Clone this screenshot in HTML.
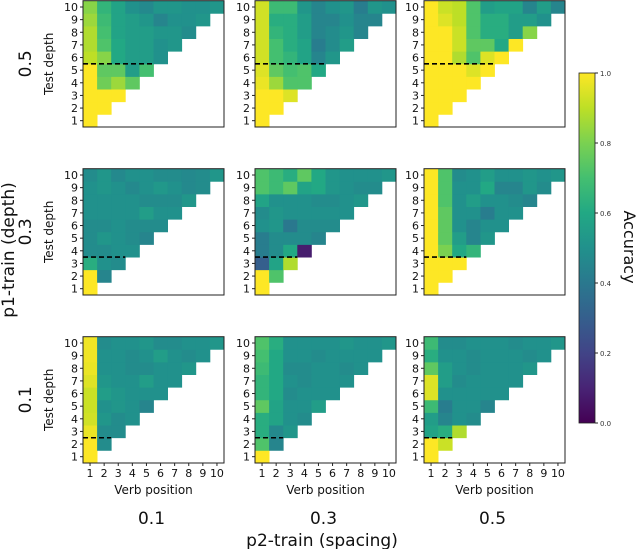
<!DOCTYPE html>
<html><head><meta charset="utf-8">
<style>
html,body{margin:0;padding:0;background:#fff;}
svg{display:block;font-family:"DejaVu Sans","Liberation Sans",sans-serif;}
</style></head>
<body>
<svg id="chart" width="640" height="549" viewBox="0 0 640 549" xmlns="http://www.w3.org/2000/svg">
<defs>
<linearGradient id="vir" x1="0" y1="1" x2="0" y2="0">
<stop offset="0" stop-color="#440154"/><stop offset="0.1" stop-color="#482475"/><stop offset="0.2" stop-color="#414487"/><stop offset="0.3" stop-color="#355f8d"/><stop offset="0.4" stop-color="#2a788e"/><stop offset="0.5" stop-color="#21918c"/><stop offset="0.6" stop-color="#22a884"/><stop offset="0.7" stop-color="#44bf70"/><stop offset="0.8" stop-color="#7ad151"/><stop offset="0.9" stop-color="#bddf26"/><stop offset="1" stop-color="#fde725"/>
</linearGradient>
</defs>
</svg>
<script>
// rows: p1-train (depth) values, top to bottom
const p1Labels = ["0.5","0.3","0.1"];
// columns: p2-train (spacing)
const p2Labels = ["0.1","0.3","0.5"];
const depthTicks = [1,2,3,4,5,6,7,8,9,10];
const verbTicks = [1,2,3,4,5,6,7,8,9,10];
const cbTicks = [0.0,0.2,0.4,0.6,0.8,1.0];
// training depth threshold per p1 row (dashed line)
const trainDepth = [5,3,2];
// panel data: each array row = depth d (1..10), d values for verb positions 1..d
const acc_05_01 = [[1],[1,1],[1,1,1],[1,0.78,0.85,0.75],[1,0.75,0.75,0.55,0.7],[0.9,0.82,0.6,0.55,0.55,0.5],[0.88,0.72,0.6,0.55,0.55,0.5,0.52],[0.88,0.7,0.58,0.55,0.55,0.52,0.52,0.48],[0.85,0.68,0.58,0.55,0.52,0.45,0.5,0.5,0.52],[0.82,0.65,0.58,0.5,0.47,0.52,0.52,0.5,0.5,0.52]];
const acc_05_03 = [[1],[1,1],[1,1,0.95],[0.97,0.85,0.72,0.72],[0.95,0.75,0.7,0.72,0.6],[0.93,0.7,0.65,0.58,0.45,0.52],[0.93,0.7,0.62,0.58,0.42,0.48,0.55],[0.93,0.65,0.62,0.55,0.45,0.48,0.52,0.45],[0.93,0.62,0.62,0.55,0.45,0.45,0.5,0.45,0.45],[0.93,0.68,0.68,0.52,0.45,0.5,0.52,0.42,0.52,0.5]];
const acc_05_05 = [[1],[1,1],[1,1,1],[1,1,1,1],[1,1,1,0.95,1],[1,1,0.88,0.72,0.95,1],[1,1,0.92,0.75,0.75,0.6,1],[1,1,0.92,0.72,0.62,0.62,0.55,0.82],[1,0.95,0.9,0.72,0.62,0.62,0.55,0.55,0.5],[1,0.92,0.9,0.72,0.55,0.58,0.58,0.45,0.55,0.45]];
const acc_03_01 = [[1],[1,0.45],[0.62,0.5,0.48],[0.48,0.48,0.5,0.5],[0.48,0.52,0.5,0.48,0.45],[0.48,0.48,0.5,0.48,0.48,0.48],[0.5,0.5,0.5,0.5,0.55,0.5,0.5],[0.5,0.5,0.5,0.5,0.48,0.48,0.48,0.52],[0.5,0.52,0.5,0.47,0.5,0.53,0.5,0.47,0.48],[0.48,0.52,0.47,0.5,0.5,0.48,0.48,0.47,0.48,0.52]];
const acc_03_03 = [[1],[1,0.72],[0.3,0.58,0.88],[0.42,0.48,0.6,0.08],[0.42,0.48,0.48,0.48,0.45],[0.5,0.52,0.4,0.48,0.48,0.48],[0.48,0.52,0.5,0.5,0.5,0.5,0.5],[0.58,0.5,0.5,0.5,0.48,0.48,0.5,0.52],[0.72,0.68,0.75,0.58,0.6,0.52,0.5,0.48,0.48],[0.72,0.68,0.62,0.75,0.6,0.52,0.5,0.5,0.5,0.52]];
const acc_03_05 = [[1],[1,1],[1,1,1],[1,0.8,0.6,0.65],[1,0.75,0.55,0.45,0.52],[1,0.75,0.5,0.45,0.5,0.5],[1,0.75,0.5,0.5,0.42,0.5,0.5],[1,0.72,0.5,0.55,0.5,0.5,0.48,0.45],[1,0.72,0.5,0.5,0.6,0.45,0.45,0.52,0.48],[1,0.72,0.48,0.5,0.55,0.5,0.5,0.52,0.5,0.52]];
const acc_01_01 = [[1],[1,0.48],[0.97,0.48,0.48],[0.93,0.52,0.48,0.5],[0.92,0.5,0.52,0.5,0.45],[0.92,0.55,0.52,0.5,0.5,0.5],[0.95,0.52,0.5,0.5,0.55,0.5,0.5],[0.97,0.5,0.5,0.48,0.48,0.5,0.5,0.52],[0.98,0.5,0.5,0.48,0.5,0.55,0.5,0.48,0.5],[0.98,0.48,0.5,0.5,0.52,0.48,0.48,0.5,0.5,0.52]];
const acc_01_03 = [[1],[0.72,0.45],[0.62,0.47,0.52],[0.62,0.58,0.5,0.48],[0.75,0.58,0.5,0.5,0.55],[0.65,0.6,0.48,0.5,0.5,0.5],[0.65,0.6,0.5,0.48,0.5,0.5,0.5],[0.68,0.6,0.48,0.48,0.5,0.5,0.48,0.5],[0.7,0.6,0.5,0.5,0.48,0.5,0.5,0.5,0.5],[0.72,0.62,0.5,0.5,0.5,0.5,0.52,0.5,0.5,0.52]];
const acc_01_05 = [[1],[1,0.92],[0.58,0.62,0.88],[0.55,0.45,0.5,0.48],[0.68,0.42,0.5,0.5,0.45],[0.95,0.5,0.5,0.5,0.5,0.5],[0.95,0.55,0.48,0.5,0.5,0.5,0.5],[0.75,0.55,0.5,0.48,0.5,0.5,0.5,0.52],[0.62,0.5,0.5,0.48,0.5,0.5,0.5,0.48,0.5],[0.68,0.48,0.48,0.5,0.5,0.5,0.48,0.5,0.5,0.52]];
const panels = [[acc_05_01,acc_05_03,acc_05_05],[acc_03_01,acc_03_03,acc_03_05],[acc_01_01,acc_01_03,acc_01_05]];

const NS="http://www.w3.org/2000/svg";
const svg=document.getElementById('chart');
const VIR=["#440154","#482475","#414487","#355f8d","#2a788e","#21918c","#22a884","#44bf70","#7ad151","#bddf26","#fde725"];
function hex(h){return [1,3,5].map(i=>parseInt(h.substr(i,2),16));}
function viridis(v){v=Math.max(0,Math.min(1,v));const f=v*10,i=Math.min(9,Math.floor(f)),t=f-i;const a=hex(VIR[i]),b=hex(VIR[i+1]);return 'rgb('+a.map((c,k)=>Math.round(c+(b[k]-c)*t)).join(',')+')';}
function mk(tag,attrs,parent){const e=document.createElementNS(NS,tag);for(const k in attrs)e.setAttribute(k,attrs[k]);(parent||svg).appendChild(e);return e;}
function txt(s,attrs,parent){const e=mk('text',attrs,parent);e.textContent=s;return e;}

const colLeft=[83,255,424], panelW=141;
const rowTop=[0.7,168.7,336.7], panelH=126.3;
function xScale(pi,v){return colLeft[pi]+(v-1)*panelW/10;}
function yScale(ri,d){return rowTop[ri]+(10-d)*panelH/10;}

for(let r=0;r<3;r++){for(let c=0;c<3;c++){
  const g=mk('g',{});
  
  
  const data=panels[r][c];
  const cw=panelW/10, ch=panelH/10;
  data.forEach((row,di)=>{const d=di+1;row.forEach((v,vi)=>{
    const cell=mk('rect',{x:xScale(c,vi+1),y:yScale(r,d),width:cw+0.4,height:ch+0.4,fill:viridis(v)},g);
    
    
  });});
  const L=colLeft[c],T=rowTop[r];
  mk('rect',{x:L,y:T,width:panelW,height:panelH,fill:'none',stroke:'#222','stroke-width':1},g);
  const ty=yScale(r,trainDepth[r]+1)+ch;
  const dl=mk('line',{x1:L,y1:ty,x2:xScale(c,trainDepth[r]+1),y2:ty,stroke:'#000','stroke-width':1.6,'stroke-dasharray':'5,3'},g);
  
  
  depthTicks.forEach(d=>{const y=yScale(r,d)+ch/2;
    mk('line',{x1:L-3,y1:y,x2:L,y2:y,stroke:'#222'},g);
    const t=txt(String(d),{x:L-5,y:y+4,'font-size':11,'text-anchor':'end',fill:'#111'},g);
    
    
  });
  if(r===2){verbTicks.forEach(v=>{const x=xScale(c,v)+cw/2;
    mk('line',{x1:x,y1:T+panelH,x2:x,y2:T+panelH+3,stroke:'#222'},g);
    const t=txt(String(v),{x:x,y:T+panelH+14,'font-size':11,'text-anchor':'middle',fill:'#111'},g);
    
    
  });
    const xl=txt('Verb position',{x:L+panelW/2,y:494,'font-size':12,'text-anchor':'middle',fill:'#111'},g);
    
    
    const pl=txt(p2Labels[c],{x:L+panelW/2-2,y:524,'font-size':17,'text-anchor':'middle',fill:'#111'},g);
    
    
  }
  if(c===0){
    const cy=T+panelH/2;
    const yl=txt('Test depth',{x:0,y:0,'font-size':12,'text-anchor':'middle',fill:'#111',transform:'translate(53,'+cy+') rotate(-90)'},g);
    
    
    const pl=txt(p1Labels[r],{x:0,y:0,'font-size':17,'text-anchor':'middle',fill:'#111',transform:'translate(31,'+cy+') rotate(-90)'},g);
    
    
  }
}}
const p1t=txt('p1-train (depth)',{x:0,y:0,'font-size':17,'text-anchor':'middle',fill:'#111',transform:'translate(14,250) rotate(-90)'});


const p2t=txt('p2-train (spacing)',{x:322,y:546,'font-size':17,'text-anchor':'middle',fill:'#111'});



// colorbar
const cbTop=73,cbBot=423,cbX=579,cbW=16;
function cbY(v){return cbBot-(cbBot-cbTop)*v;}
const cb=mk('rect',{x:cbX,y:cbTop,width:cbW,height:cbBot-cbTop,fill:'url(#vir)',stroke:'#222','stroke-width':0.8});


cbTicks.forEach(v=>{const y=cbY(v);
  mk('line',{x1:cbX+cbW,y1:y,x2:cbX+cbW+3,y2:y,stroke:'#222'});
  const t=txt(v.toFixed(1),{x:cbX+cbW+5,y:y+3,'font-size':7,fill:'#333'});
  
  
});
const at=txt('Accuracy',{x:0,y:0,'font-size':16,'text-anchor':'middle',fill:'#111',transform:'translate(624,247) rotate(90)'});


</script>
</body></html>
